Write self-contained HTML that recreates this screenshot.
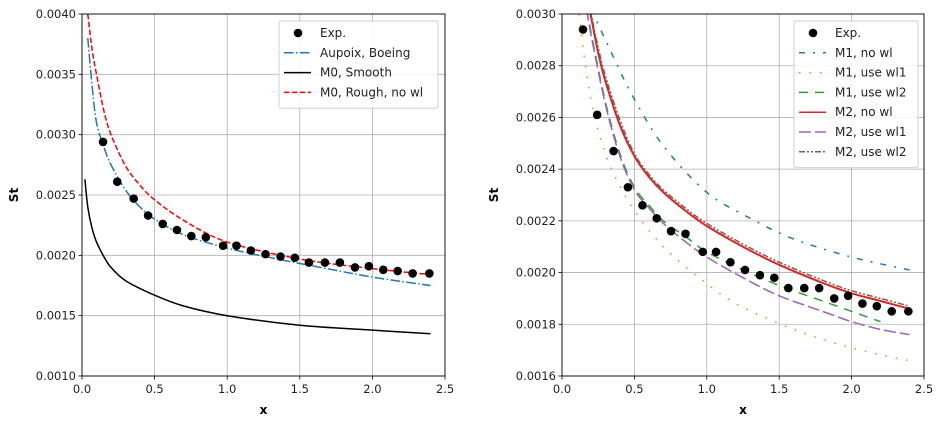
<!DOCTYPE html>
<html><head><meta charset="utf-8">
<style>
body{margin:0;background:#fff;width:944px;height:425px;overflow:hidden}
svg{font-family:"DejaVu Sans","Liberation Sans",sans-serif}
</style></head>
<body>
<svg id="chart" width="944" height="425" viewBox="0 0 944 425"></svg>
<script>
const expX=[0.145,0.243,0.356,0.455,0.556,0.654,0.753,0.853,0.972,1.064,1.163,1.264,1.367,1.466,1.563,1.673,1.776,1.880,1.976,2.075,2.174,2.277,2.392];
const expY=[0.00294,0.00261,0.00247,0.00233,0.00226,0.00221,0.00216,0.00215,0.00208,0.00208,0.00204,0.00201,0.00199,0.00198,0.00194,0.00194,0.00194,0.00190,0.00191,0.00188,0.00187,0.00185,0.00185];
const aupX=[0.04,0.07,0.1,0.15,0.2,0.3,0.4,0.5,0.7,1.0,1.3,1.6,2.0,2.4];
const aupY=[0.0038,0.0034,0.0031,0.0029,0.00275,0.00254,0.0024,0.0023,0.00217,0.00206,0.00198,0.00191,0.00182,0.00175];
const smX=[0.02,0.04,0.07,0.1,0.15,0.2,0.3,0.5,0.7,1.0,1.5,2.0,2.4];
const smY=[0.00263,0.0024,0.00222,0.00211,0.00199,0.0019,0.00179,0.00167,0.00158,0.0015,0.00142,0.00138,0.00135];
const rgX=[0.04,0.07,0.1,0.15,0.2,0.3,0.4,0.5,0.7,1.0,1.5,2.0,2.4];
const rgY=[0.0040,0.0037,0.0035,0.0032,0.00300,0.00274,0.00258,0.00246,0.00229,0.00211,0.00197,0.00189,0.00184];
const m1nX=[0.2,0.3,0.4,0.5,0.7,1.0,1.3,1.6,2.0,2.4];
const m1nY=[0.00302,0.0029,0.00278,0.00267,0.00249,0.00231,0.00221,0.00213,0.00206,0.00201];
const m1w1X=[0.12,0.15,0.2,0.26,0.35,0.5,0.7,0.97,1.2,1.47,1.7,1.99,2.3,2.4];
const m1w1Y=[0.003,0.00285,0.00267,0.00253,0.00239,0.00224,0.0021,0.00197,0.00188,0.00181,0.00176,0.00171,0.00167,0.00166];
const m1w2X=[0.17,0.2,0.3,0.4,0.5,0.6,0.7,0.85,1.0,1.25,1.5,1.8,2.0,2.2];
const m1w2Y=[0.00302,0.00293,0.00266,0.00246,0.00233,0.00226,0.0022,0.00214,0.00208,0.00201,0.00195,0.00189,0.00185,0.00181];
const m2nX=[0.19,0.25,0.3,0.4,0.5,0.6,0.7,0.85,1.0,1.25,1.5,1.8,2.0,2.2,2.4];
const m2nY=[0.00302,0.00285,0.00274,0.00257,0.00245,0.00237,0.00231,0.00224,0.00218,0.0021,0.00203,0.00196,0.00192,0.00189,0.00186];
const m2w1X=[0.17,0.2,0.3,0.4,0.5,0.6,0.7,0.85,1.0,1.25,1.5,1.8,2.0,2.2,2.4];
const m2w1Y=[0.00302,0.00292,0.00265,0.00245,0.00232,0.00225,0.00219,0.00212,0.00206,0.00198,0.00191,0.00185,0.00181,0.00178,0.00176];
const m2w2X=[0.19,0.25,0.3,0.4,0.5,0.6,0.7,0.85,1.0,1.25,1.5,1.8,2.0,2.2,2.4];
const m2w2Y=[0.00303,0.00287,0.00276,0.00259,0.00246,0.00238,0.00232,0.00225,0.00219,0.00211,0.00204,0.00197,0.00193,0.0019,0.00187];
const xTicks=["0.0","0.5","1.0","1.5","2.0","2.5"];
const yTicksL=["0.0010","0.0015","0.0020","0.0025","0.0030","0.0035","0.0040"];
const yTicksR=["0.0016","0.0018","0.0020","0.0022","0.0024","0.0026","0.0028","0.0030"];

const NS="http://www.w3.org/2000/svg";
const svg=document.getElementById('chart');
function mk(tag,attrs,parent){const e=document.createElementNS(NS,tag);for(const k in attrs)e.setAttribute(k,attrs[k]);(parent||svg).appendChild(e);return e;}

function panel(name,x0,x1,ymin,ymax,yTicks){
  const y0=14,y1=376;
  const g=mk('g',{});
  
  
  const sx=v=>x0+(v-0)/(2.5)*(x1-x0);
  const sy=v=>y1-(v-ymin)/(ymax-ymin)*(y1-y0);
  const clipId=name+'-clip';
  const cp=mk('clipPath',{id:clipId},g);mk('rect',{x:x0,y:y0,width:x1-x0,height:y1-y0},cp);
  xTicks.forEach(t=>{const X=sx(+t);
    const l=mk('line',{x1:X,x2:X,y1:y0,y2:y1,stroke:'#b0b0b0','stroke-width':0.8},g);
    
    mk('line',{x1:X,x2:X,y1:y1,y2:y1+3.5,stroke:'#000','stroke-width':0.8},g);
    const tx=mk('text',{x:X,y:y1+17,'font-size':11.5,'text-anchor':'middle',fill:'#222'},g);tx.textContent=t;
    });
  yTicks.forEach(t=>{const Y=sy(+t);
    const l=mk('line',{x1:x0,x2:x1,y1:Y,y2:Y,stroke:'#b0b0b0','stroke-width':0.8},g);
    
    mk('line',{x1:x0-3.5,x2:x0,y1:Y,y2:Y,stroke:'#000','stroke-width':0.8},g);
    const tx=mk('text',{x:x0-6,y:Y+4,'font-size':11.5,'text-anchor':'end',fill:'#222'},g);tx.textContent=t;
    });
  const xl=mk('text',{x:(x0+x1)/2,y:414,'font-size':12,'font-weight':'bold','text-anchor':'middle'},g);xl.textContent='x';
  
  const yl=mk('text',{x:0,y:0,'font-size':12,'font-weight':'bold','text-anchor':'middle',transform:`translate(${x0-64},${(y0+y1)/2}) rotate(-90)`},g);yl.textContent='St';
  
  const plot=mk('g',{'clip-path':`url(#${clipId})`},g);
  return {g,plot,sx,sy,x0,x1,y0,y1};
}
function line(P,xs,ys,color,dash,name,w){
  const p2=xs.map((x,i)=>[P.sx(x),P.sy(ys[i])]);
  let d='M'+p2[0][0].toFixed(1)+','+p2[0][1].toFixed(1);
  for(let i=0;i<p2.length-1;i++){
    const a=p2[i-1]||p2[i],b=p2[i],c=p2[i+1],e=p2[i+2]||c;
    const c1=[b[0]+(c[0]-a[0])/6,b[1]+(c[1]-a[1])/6],c2=[c[0]-(e[0]-b[0])/6,c[1]-(e[1]-b[1])/6];
    d+='C'+c1.map(v=>v.toFixed(1)).join(',')+' '+c2.map(v=>v.toFixed(1)).join(',')+' '+c.map(v=>v.toFixed(1)).join(',');
  }
  const p=mk('path',{d,fill:'none',stroke:color,'stroke-width':w||1.5,'stroke-dasharray':dash||'none','stroke-linejoin':'round'},P.plot);
  
}
function pts(P){
  expX.forEach((x,i)=>{const c=mk('circle',{cx:P.sx(x),cy:P.sy(expY[i]),r:4.3,fill:'#000'},P.plot);
    });
}
function frame(P){mk('rect',{x:P.x0,y:P.y0,width:P.x1-P.x0,height:P.y1-P.y0,fill:'none',stroke:'#000','stroke-width':0.9},P.g);}
function legend(P,x,y,w,entries){
  const lg=mk('g',{},P.g);
  
  mk('rect',{x,y,width:w,height:entries.length*19.8+8,fill:'#fff','fill-opacity':0.85,stroke:'#d0d0d0',rx:2},lg);
  entries.forEach((e,i)=>{const cy=y+12+i*19.8;
    const eg=mk('g',{},lg);
    
    if(e.marker)mk('circle',{cx:x+19,cy,r:4.3,fill:'#000'},eg);
    else mk('line',{x1:x+5,x2:x+32,y1:cy,y2:cy,stroke:e.c,'stroke-width':1.5,'stroke-dasharray':e.d||'none'},eg);
    const t=mk('text',{x:x+41,y:cy+4,'font-size':12,fill:'#222'},eg);t.textContent=e.t;});
}

const L=panel('left-chart',82,445,0.001,0.004,yTicksL);
line(L,aupX,aupY,'#1f77b4','9.6,2.4,1.5,2.4','aupoix-boeing-line');
line(L,smX,smY,'#000',null,'m0-smooth-line');
line(L,rgX,rgY,'#ff0000','5.5,2.4','m0-rough-line');
pts(L);frame(L);
legend(L,279,21,159,[{marker:1,t:'Exp.'},{c:'#1f77b4',d:'9.6,2.4,1.5,2.4',t:'Aupoix, Boeing'},{c:'#000',t:'M0, Smooth'},{c:'#ff0000',d:'5.5,2.4',t:'M0, Rough, no wl'}]);

const R=panel('right-chart',562,924,0.0016,0.003,yTicksR);
line(R,m1nX,m1nY,'#1f77b4','6,8,2,8','m1-no-wl-line');
line(R,m1w1X,m1w1Y,'#ff7f0e','1.5,9','m1-use-wl1-line');
line(R,m1w2X,m1w2Y,'#2ca02c','9,7','m1-use-wl2-line');
line(R,m2nX,m2nY,'#d62728',null,'m2-no-wl-line',2);
line(R,m2w1X,m2w1Y,'#9467bd','12,4','m2-use-wl1-line');
line(R,m2w2X,m2w2Y,'#8c564b','6,2,2,2,2,2','m2-use-wl2-line');
pts(R);frame(R);
legend(R,794,21,124,[{marker:1,t:'Exp.'},{c:'#1f77b4',d:'6,8,2,8',t:'M1, no wl'},{c:'#ff7f0e',d:'1.5,9',t:'M1, use wl1'},{c:'#2ca02c',d:'9,7',t:'M1, use wl2'},{c:'#d62728',t:'M2, no wl'},{c:'#9467bd',d:'12,4',t:'M2, use wl1'},{c:'#8c564b',d:'6,2,2,2,2,2',t:'M2, use wl2'}]);
</script>
</body></html>
